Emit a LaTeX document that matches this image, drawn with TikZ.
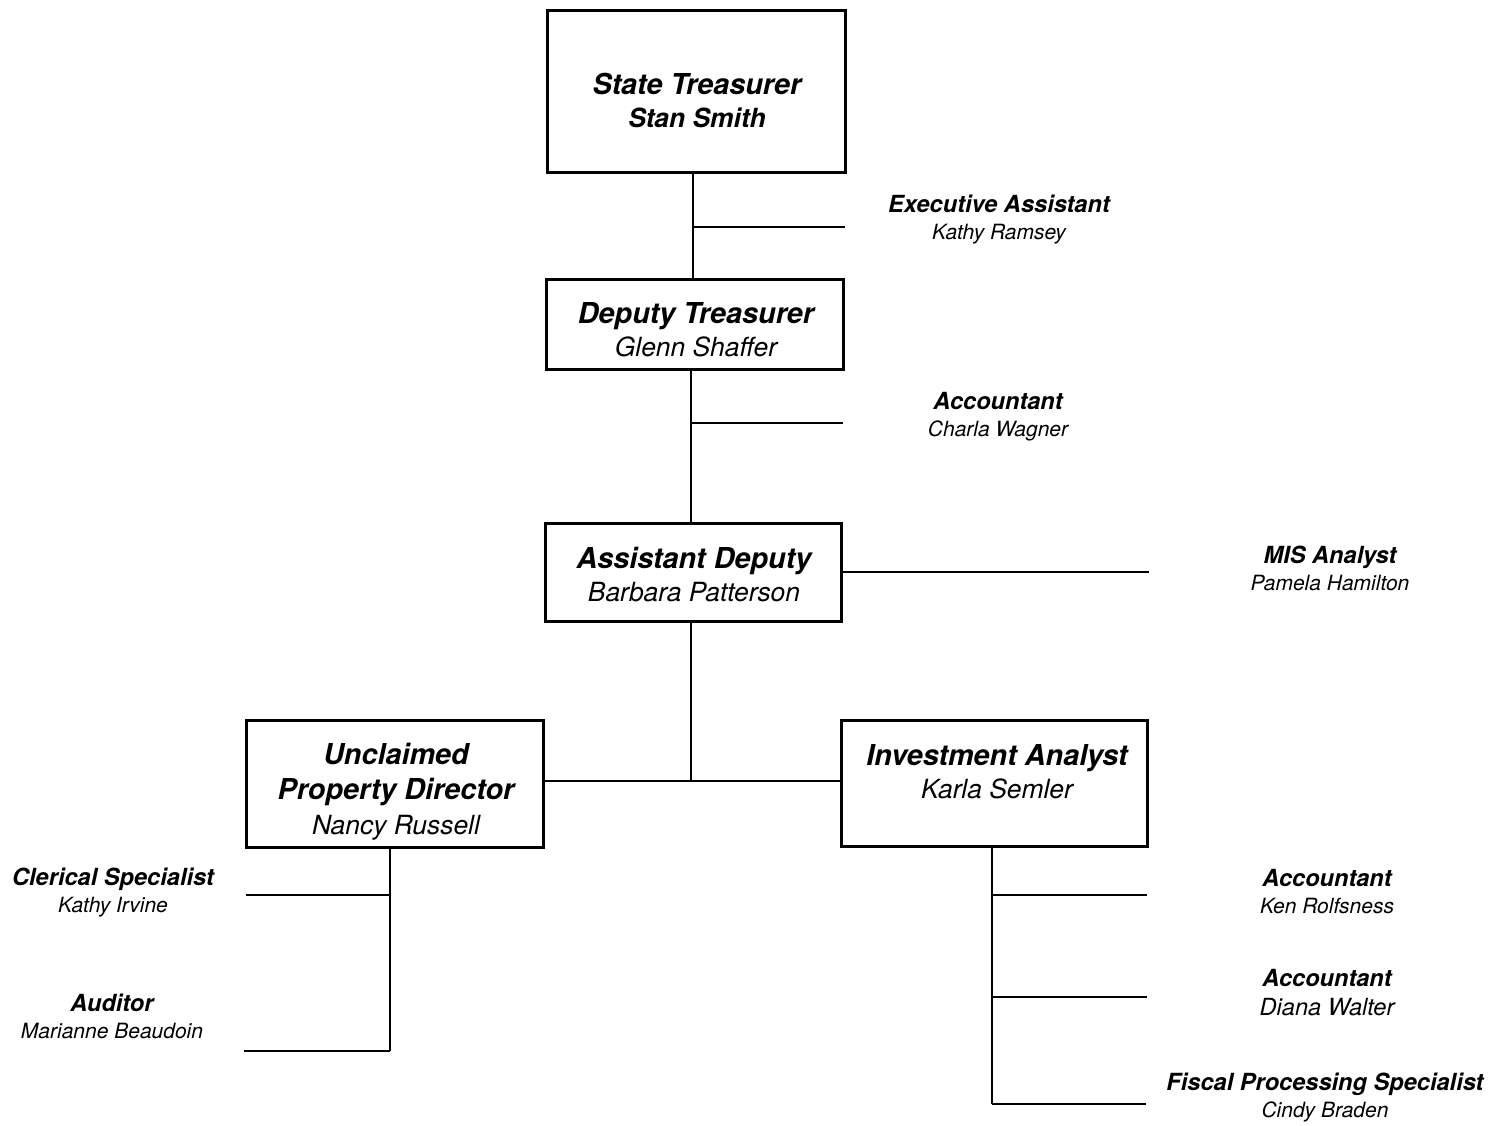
\documentclass[tikz,border=0pt]{standalone}
\usepackage{fontspec}
\setmainfont{TeX Gyre Heros}
\newcommand\boxtitle[1]{{\fontsize{14.4}{16.5}\selectfont\bfseries\itshape #1}}
\newcommand\boxname[1]{{\fontsize{13.2}{16.5}\selectfont\itshape #1}}
\newcommand\boxbname[1]{{\fontsize{13.2}{16.5}\selectfont\bfseries\itshape #1}}
\newcommand\sidetitle[1]{{\fontsize{11.8}{13.5}\selectfont\bfseries\itshape #1}}
\newcommand\sidename[1]{{\fontsize{10.5}{13.5}\selectfont\itshape #1}}
\newcommand\sidebigname[1]{{\fontsize{11.8}{14.5}\selectfont\itshape #1}}
\begin{document}
\begin{tikzpicture}[x=0.5pt,y=-0.5pt,
  orgbox/.style={draw, line width=1.5pt, inner sep=0pt},
  boxtext/.style={align=center, inner sep=0pt, font=\fontsize{14.4}{16.5}\selectfont},
  sidetext/.style={align=center, inner sep=0pt, font=\fontsize{11.8}{13.5}\selectfont},
  conn/.style={line width=1.4pt}]
\useasboundingbox (0,0) rectangle (1507,1125);
% boxes
\node[orgbox, minimum width=149pt, minimum height=81pt] (st) at (696,91) {};
\node[orgbox, minimum width=148.5pt, minimum height=45pt] (dt) at (694.5,324) {};
\node[orgbox, minimum width=148pt, minimum height=49pt] (ad) at (693,572) {};
\node[orgbox, minimum width=148.5pt, minimum height=63.5pt] (up) at (394.5,783.5) {};
\node[orgbox, minimum width=153pt, minimum height=63pt] (ia) at (994,783) {};
% box texts
\node[boxtext] (sttext) at (697,100.5) {\boxtitle{State Treasurer}\\\boxbname{Stan Smith}};
\node[boxtext] (dttext) at (696,329.5) {\boxtitle{Deputy Treasurer}\\\boxname{Glenn Shaffer}};
\node[boxtext] (adtext) at (694,575) {\boxtitle{Assistant Deputy}\\\boxname{Barbara Patterson}};
\node[boxtext, font=\fontsize{14.4}{17.5}\selectfont] (uptext) at (396,791.5) {\boxtitle{Unclaimed}\\\boxtitle{Property Director}\\\boxname{Nancy Russell}};
\node[boxtext] (iatext) at (997,771.5) {\boxtitle{Investment Analyst}\\\boxname{Karla Semler}};
% side labels
\node[sidetext] (ea) at (999,220) {\sidetitle{Executive Assistant}\\\sidename{Kathy Ramsey}};
\node[sidetext] (ac1) at (998,416.5) {\sidetitle{Accountant}\\\sidename{Charla Wagner}};
\node[sidetext] (mis) at (1330,568.5) {\sidetitle{MIS Analyst}\\\sidename{Pamela Hamilton}};
\node[sidetext] (cs) at (113,893) {\sidetitle{Clerical Specialist}\\\sidename{Kathy Irvine}};
\node[sidetext] (au) at (112,1016.5) {\sidetitle{Auditor}\\\sidename{Marianne Beaudoin}};
\node[sidetext] (ac2) at (1327,892) {\sidetitle{Accountant}\\\sidename{Ken Rolfsness}};
\node[sidetext, font=\fontsize{11.8}{14.5}\selectfont] (ac3) at (1327,992.5) {\sidetitle{Accountant}\\\sidebigname{Diana Walter}};
\node[sidetext] (fps) at (1325,1098) {\sidetitle{Fiscal Processing Specialist}\\\sidename{Cindy Braden}};
% junction coordinates and free ends
\coordinate (j1) at (693,227);  \coordinate (e1) at (845,227);
\coordinate (j2) at (691,423);  \coordinate (e2) at (843,423);
\coordinate (e3) at (1149,572);
\coordinate (j3) at (691,781);
\coordinate (j4) at (390,895);  \coordinate (e4) at (246,895);
\coordinate (j5) at (390,1051); \coordinate (e5) at (244,1051);
\coordinate (k1) at (992,895);  \coordinate (f1) at (1147,895);
\coordinate (k2) at (992,997);  \coordinate (f2) at (1147,997);
\coordinate (k3) at (992,1104); \coordinate (f3) at (1146,1104);
% connectors
\draw[conn] (st.south -| j1) -- (dt.north -| j1);
\draw[conn] (j1) -- (e1);
\draw[conn] (dt.south -| j2) -- (ad.north -| j2);
\draw[conn] (j2) -- (e2);
\draw[conn] (ad.east) -- (e3);
\draw[conn] (ad.south -| j3) -- (j3);
\draw[conn] (up.east |- j3) -- (ia.west |- j3);
\draw[conn] (up.south -| j4) -- (j5);
\draw[conn] (j4) -- (e4);
\draw[conn] (j5) -- (e5);
\draw[conn] (ia.south -| k1) -- (k3);
\draw[conn] (k1) -- (f1);
\draw[conn] (k2) -- (f2);
\draw[conn] (k3) -- (f3);
\end{tikzpicture}
\end{document}
